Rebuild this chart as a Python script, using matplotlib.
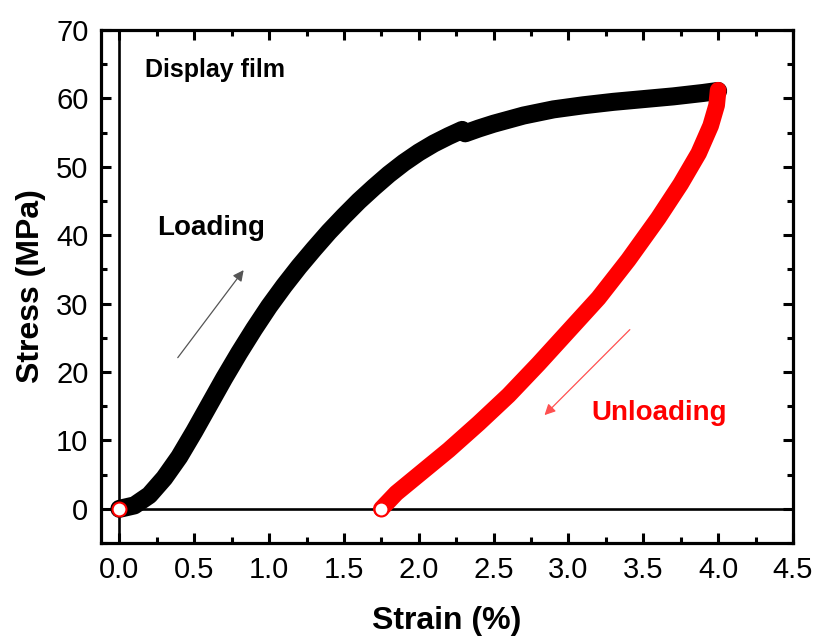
import numpy as np
import matplotlib
matplotlib.use("Agg")
import matplotlib.pyplot as plt
from matplotlib.ticker import MultipleLocator

plt.rcParams['font.family'] = ['Liberation Sans', 'DejaVu Sans']

# loading curve (strain %, stress MPa)
load_strain = [0.0, 0.1, 0.2, 0.3, 0.4, 0.5, 0.6, 0.7, 0.8, 0.9, 1.0,
               1.1, 1.2, 1.3, 1.4, 1.5, 1.6, 1.7, 1.8, 1.9, 2.0,
               2.1, 2.2, 2.29, 2.31, 2.4, 2.5, 2.7, 2.9, 3.1, 3.3,
               3.5, 3.7, 3.9, 4.0]
load_stress = [0.0, 0.5, 2.0, 4.5, 7.6, 11.3, 15.2, 19.1, 22.8, 26.3, 29.6,
               32.6, 35.4, 38.0, 40.5, 42.8, 45.0, 47.0, 48.9, 50.6, 52.1,
               53.4, 54.5, 55.4, 54.9, 55.6, 56.3, 57.5, 58.4, 59.0, 59.5,
               59.9, 60.3, 60.8, 61.1]

# unloading curve
unload_strain = [4.0, 3.99, 3.95, 3.87, 3.75, 3.6, 3.4, 3.2, 3.0, 2.8,
                 2.6, 2.4, 2.2, 2.0, 1.85, 1.75]
unload_stress = [61.2, 59.0, 56.0, 52.0, 47.5, 42.5, 36.4, 30.8, 26.0, 21.2,
                 16.6, 12.5, 8.6, 5.0, 2.3, 0.0]

# open start markers
start_strain = [0.0, 1.75]
start_stress = [0.0, 0.0]

fig = plt.figure(figsize=(8.17, 6.39), dpi=100)
ax = fig.add_axes([0.1236, 0.1502, 0.8470, 0.8028])

ax.axhline(0, color='black', lw=1.9, zorder=1)
ax.axvline(0, color='black', lw=1.9, zorder=1)

ax.plot(load_strain, load_stress, color='black', lw=13, solid_capstyle='round',
        solid_joinstyle='round', zorder=2)
ax.plot(unload_strain, unload_stress, color='red', lw=12, solid_capstyle='round',
        solid_joinstyle='round', zorder=3)
ax.plot(start_strain, start_stress, 'o', ms=10, mfc='white', mec='red', mew=1.5, zorder=4)

ax.annotate('', xy=(0.83, 34.9), xytext=(0.39, 22.1),
            arrowprops=dict(arrowstyle='-|>', color='#555555', lw=0.9,
                            mutation_scale=16, shrinkA=0, shrinkB=0))
ax.annotate('', xy=(2.84, 13.7), xytext=(3.41, 26.2),
            arrowprops=dict(arrowstyle='-|>', color='#ff5050', lw=0.9,
                            mutation_scale=16, shrinkA=0, shrinkB=0))

ax.text(0.17, 64.2, 'Display film', fontsize=18, fontweight='bold', va='center')
ax.text(0.25, 41.1, 'Loading', fontsize=20, fontweight='bold', va='center')
ax.text(3.15, 14.0, 'Unloading', fontsize=20, fontweight='bold', va='center', color='red')

ax.set_xlim(-0.123, 4.5)
ax.set_ylim(-5, 70)
ax.xaxis.set_minor_locator(MultipleLocator(0.25))
ax.yaxis.set_major_locator(MultipleLocator(10))
ax.yaxis.set_minor_locator(MultipleLocator(5))
ax.set_xticks(np.arange(0, 4.51, 0.5))
ax.set_xticklabels(['%.1f' % v for v in np.arange(0, 4.51, 0.5)])

for s in ax.spines.values():
    s.set_linewidth(2.3)
ax.tick_params(which='both', direction='in', top=True, right=True, width=2.2)
ax.tick_params(which='major', length=7.5, labelsize=21, pad=9)
ax.tick_params(which='minor', length=4.5)

ax.set_xlabel('Strain (%)', fontsize=23, fontweight='bold', labelpad=16)
ax.set_ylabel('Stress (MPa)', fontsize=23, fontweight='bold', labelpad=7)

fig.savefig('out.png', dpi=100)
